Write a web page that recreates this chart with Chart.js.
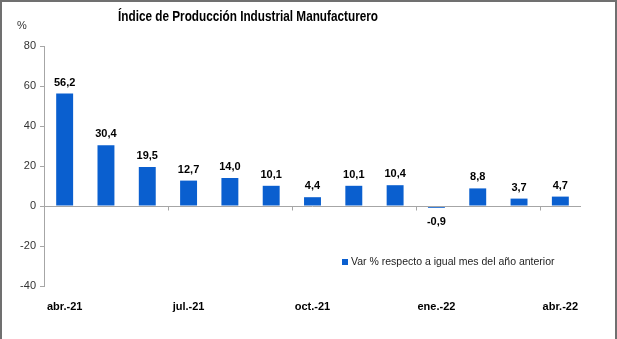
<!DOCTYPE html>
<html>
<head>
<meta charset="utf-8">
<script src="https://cdn.jsdelivr.net/npm/chart.js@4/dist/chart.umd.min.js"></script>
<style>
    html, body { margin: 0; padding: 0; background: #fff; }
    #wrap { position: relative; width: 617px; height: 339px; }
    #wrap:after {
        content: ''; position: absolute; left: 0; top: 0; right: 0; bottom: 0;
        border-left: 2px solid #707070; border-top: 2px solid #707070; border-right: 2px solid #707070;
        pointer-events: none;
    }
    canvas { display: block; }
</style>
</head>
<body>
<div id="wrap"><canvas id="ipiChart" width="617" height="339"></canvas></div>
<script>
const months = ['abr.-21', 'may.-21', 'jun.-21', 'jul.-21', 'ago.-21', 'sep.-21', 'oct.-21',
    'nov.-21', 'dic.-21', 'ene.-22', 'feb.-22', 'mar.-22', 'abr.-22'];
const varAnual = [56.2, 30.4, 19.5, 12.7, 14.0, 10.1, 4.4, 10.1, 10.4, -0.9, 8.8, 3.7, 4.7];
const seriesName = 'Var % respecto a igual mes del año anterior';
const chartTitle = 'Índice de Producción Industrial Manufacturero';
const yUnit = '%';

const barColor = '#0a5fcf';
const axisColor = '#a6a6a6';

function fmt(v) {
    return v.toFixed(1).replace('.', ',');
}

// title, unit, data labels, zero line and legend
const decorations = {
    id: 'decorations',
    afterDraw(chart) {
        const ctx = chart.ctx;
        const area = chart.chartArea;
        const x = chart.scales.x;
        const y = chart.scales.y;
        ctx.save();

        // narrow title (no Arial Narrow here, so squeeze it)
        ctx.fillStyle = '#000';
        ctx.textAlign = 'center';
        ctx.textBaseline = 'middle';
        ctx.font = 'bold 15px Arial, "Liberation Sans", sans-serif';
        const tw = ctx.measureText(chartTitle).width;
        const sx = 260 / tw;
        ctx.save();
        ctx.translate(248, 17);
        ctx.scale(sx, 1);
        ctx.fillText(chartTitle, 0, 0);
        ctx.restore();

        ctx.font = '11px Arial, "Liberation Sans", sans-serif';
        ctx.fillStyle = '#333';
        ctx.fillText(yUnit, 22, 26);

        // zero line with ticks every 3 months
        const y0 = Math.round(y.getPixelForValue(0)) + 0.5;
        ctx.strokeStyle = axisColor;
        ctx.lineWidth = 1;
        ctx.beginPath();
        ctx.moveTo(area.left, y0);
        ctx.lineTo(area.right, y0);
        const step = (area.right - area.left) / months.length;
        for (let i = 0; i <= months.length; i += 3) {
            const tx = Math.round(x.getPixelForValue(i) - step / 2) + 0.5;
            ctx.moveTo(tx, y0);
            ctx.lineTo(tx, y0 + 4);
        }
        ctx.stroke();

        // value labels
        ctx.fillStyle = '#000';
        ctx.font = 'bold 11px Arial, "Liberation Sans", sans-serif';
        const meta = chart.getDatasetMeta(0);
        meta.data.forEach((bar, i) => {
            const v = varAnual[i];
            const ly = v >= 0 ? bar.y - 11 : bar.y + 14;
            ctx.fillText(fmt(v), bar.x, ly);
        });

        // legend inside plot
        ctx.fillStyle = barColor;
        ctx.fillRect(342, 259, 6, 6);
        ctx.fillStyle = '#222';
        ctx.textAlign = 'left';
        ctx.font = '10.5px Arial, "Liberation Sans", sans-serif';
        ctx.fillText(seriesName, 351, 262);

        ctx.restore();
    }
};

new Chart(document.getElementById('ipiChart').getContext('2d'), {
    type: 'bar',
    data: {
        labels: months,
        datasets: [{
            label: seriesName,
            data: varAnual,
            backgroundColor: barColor,
            borderWidth: 0,
            categoryPercentage: 1,
            barPercentage: 0.41
        }]
    },
    options: {
        responsive: false,
        animation: false,
        layout: { padding: { top: 46, right: 36, bottom: 24, left: 0 } },
        plugins: {
            legend: { display: false },
            title: { display: false },
            tooltip: { enabled: false }
        },
        scales: {
            x: {
                grid: { display: false },
                border: { display: false },
                ticks: {
                    autoSkip: false,
                    maxRotation: 0,
                    padding: 6,
                    color: '#000',
                    font: { family: 'Arial, "Liberation Sans", sans-serif', size: 11, weight: 'bold' },
                    callback: function(value, index) {
                        return index % 3 === 0 ? months[index] : '';
                    }
                },
                afterFit: function(scale) { scale.height = 29; }
            },
            y: {
                min: -40,
                max: 80,
                ticks: {
                    stepSize: 20,
                    padding: 4,
                    color: '#333',
                    font: { family: 'Arial, "Liberation Sans", sans-serif', size: 11 }
                },
                grid: {
                    drawOnChartArea: false,
                    drawTicks: true,
                    tickLength: 4,
                    color: axisColor
                },
                border: { color: axisColor },
                afterFit: function(scale) { scale.width = 44; }
            }
        }
    },
    plugins: [decorations]
});
</script>
</body>
</html>
